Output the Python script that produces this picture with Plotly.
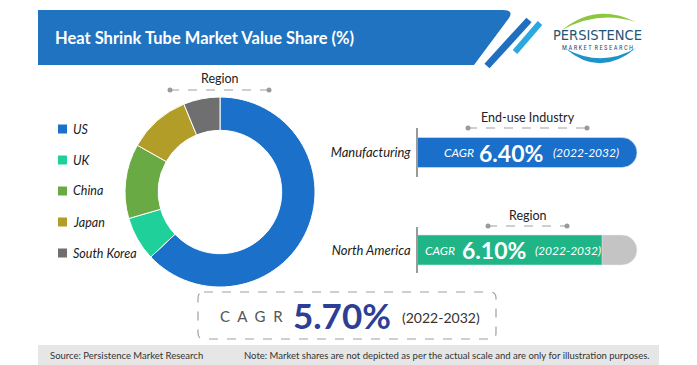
import plotly.graph_objects as go

W, H = 697, 365

# ---------------- data ----------------
title_text = "Heat Shrink Tube Market Value Share (%)"
regions = ["US", "UK", "China", "Japan", "South Korea"]
region_share = [63.0, 7.5, 12.7, 10.6, 6.2]
region_colors = ["#1b70c9", "#1fd09b", "#6aaa45", "#b39d29", "#6f6f6f"]

segment_titles = ["End-use Industry", "Region"]
segment_names = ["Manufacturing", "North America"]
segment_cagr = [6.40, 6.10]
segment_colors = ["#1a6fca", "#1fb586"]
track_color = "#c4c4c4"

overall_cagr = 5.70
period = "(2022-2032)"
source_text = "Source: Persistence Market Research"
note_text = "Note: Market shares are not depicted as per the actual scale and are only for illustration purposes."


def X(p):
    return p / W


def Y(p):
    return 1 - p / H


fig = go.Figure()

# ---------------- donut ----------------
fig.add_trace(go.Pie(
    labels=regions, values=region_share, sort=False, direction="clockwise",
    rotation=0, hole=0.65, textinfo="none", showlegend=False,
    marker=dict(colors=region_colors, line=dict(color="white", width=1)),
    domain=dict(x=[X(125), X(315)], y=[Y(287), Y(97)]),
))

# ---------------- segment bars ----------------
track_val = max(segment_cagr)
px_per_unit = (637 - 602) / (segment_cagr[0] - segment_cagr[1])
x_lo = track_val - (637 - 418) / px_per_unit
x_hi = x_lo + (665 - 418) / px_per_unit

axis_px = [(128, 177), (227, 273)]
bar_h = 30
for i, name in enumerate(segment_names):
    xa = "x" if i == 0 else f"x{i+1}"
    ya = "y" if i == 0 else f"y{i+1}"
    top, bot = axis_px[i]
    width = bar_h / (bot - top)
    if i == 1:
        fig.add_trace(go.Bar(
            x=[track_val], y=[name], orientation="h", xaxis=xa, yaxis=ya,
            marker=dict(color=track_color, cornerradius="50%"), width=width,
            showlegend=False, hoverinfo="skip"))
    fig.add_trace(go.Bar(
        x=[segment_cagr[i]], y=[name], orientation="h", xaxis=xa, yaxis=ya,
        marker=dict(color=segment_colors[i], cornerradius="50%"), width=width,
        showlegend=False))
    xkey = "xaxis" if i == 0 else f"xaxis{i+1}"
    ykey = "yaxis" if i == 0 else f"yaxis{i+1}"
    fig.layout[xkey] = dict(domain=[X(418), X(665)], range=[x_lo, x_hi],
                            visible=False, fixedrange=True,
                            anchor=ya)
    fig.layout[ykey] = dict(domain=[Y(bot), Y(top)], range=[-0.5, 0.5],
                            anchor=xa, showline=True, linecolor="#9a9a9a",
                            linewidth=1.5, showgrid=False, ticks="",
                            ticklabelstandoff=3,
                            tickfont=dict(family="Lato, sans-serif", size=13,
                                          color="#1a1a1a", style="italic"))
fig.update_layout(barmode="overlay")

shapes = []
ann = []

# ---------------- header ----------------
hdr = (f"M {X(38)} {Y(10)} L {X(503)} {Y(10)} Q {X(514)} {Y(10)} {X(509)} {Y(18)} "
       f"L {X(474)} {Y(65)} L {X(38)} {Y(65)} Z")
shapes.append(dict(type="path", path=hdr, xref="paper", yref="paper",
                   fillcolor="#1f73c1", line=dict(width=0), layer="below"))
shapes.append(dict(type="line", xref="paper", yref="paper",
                   x0=X(487), y0=Y(66), x1=X(529), y1=Y(20),
                   line=dict(color="#1f6fc0", width=7)))
shapes.append(dict(type="line", xref="paper", yref="paper",
                   x0=X(515), y0=Y(52), x1=X(540), y1=Y(23),
                   line=dict(color="#2aa8e0", width=6)))
ann.append(dict(text=f"<b>{title_text}</b>", x=X(53), y=Y(38), xref="paper",
                yref="paper", xanchor="left", yanchor="middle", showarrow=False,
                font=dict(family="Lato, sans-serif", size=16.5, color="white")))

# logo
green_arc = (f"M {X(562)} {Y(30)} Q {X(596)} {Y(2)} {X(636)} {Y(22)} "
             f"Q {X(598)} {Y(10)} {X(562)} {Y(30)} Z")
blue_arc = (f"M {X(566)} {Y(49)} Q {X(600)} {Y(78)} {X(636)} {Y(48)} "
            f"Q {X(602)} {Y(68)} {X(566)} {Y(49)} Z")
shapes.append(dict(type="path", path=green_arc, xref="paper", yref="paper",
                   fillcolor="#8dc63f", line=dict(width=0)))
shapes.append(dict(type="path", path=blue_arc, xref="paper", yref="paper",
                   fillcolor="#1c93c9", line=dict(width=0)))
ann.append(dict(text="PERSISTENCE", x=X(597), y=Y(35), xref="paper", yref="paper",
                xanchor="center", yanchor="middle", showarrow=False,
                font=dict(family="Liberation Sans Narrow, DejaVu Sans Condensed, Roboto Condensed, sans-serif",
                          size=14.5, color="#1d5677")))
ann.append(dict(text="M A R K E T  R E S E A R C H", x=X(597), y=Y(48), xref="paper",
                yref="paper", xanchor="center", yanchor="middle", showarrow=False,
                font=dict(family="Liberation Sans Narrow, Roboto Condensed, sans-serif",
                          size=6.5, color="#1d5677")))


# ---------------- dashed title lines ----------------
def dashed(x0, x1, yy):
    shapes.append(dict(type="line", xref="paper", yref="paper", x0=X(x0), x1=X(x1),
                       y0=Y(yy), y1=Y(yy), line=dict(color="#a0a0a0", width=1.2, dash="dash")))
    for xx in (x0, x1):
        shapes.append(dict(type="circle", xref="paper", yref="paper",
                           x0=X(xx - 2.5), x1=X(xx + 2.5), y0=Y(yy + 2.5), y1=Y(yy - 2.5),
                           fillcolor="#9a9a9a", line=dict(width=0)))


dashed(170, 269, 90)
ann.append(dict(text="Region", x=X(220), y=Y(78), xref="paper", yref="paper",
                showarrow=False, xanchor="center", yanchor="middle",
                font=dict(family="Lato, sans-serif", size=12.5, color="#222")))

seg_title_px = [(528, 117, 468, 587, 128), (528, 215, 488, 567, 226)]
for i, t in enumerate(segment_titles):
    cx, ty, lx0, lx1, ly = seg_title_px[i]
    dashed(lx0, lx1, ly)
    ann.append(dict(text=t, x=X(cx), y=Y(ty), xref="paper", yref="paper",
                    showarrow=False, xanchor="center", yanchor="middle",
                    font=dict(family="Lato, sans-serif", size=12.5, color="#222")))

# ---------------- bar texts ----------------
bar_text_px = [(442, 477, 551, 153), (423, 460, 533, 250)]
for i, v in enumerate(segment_cagr):
    a, b, c, yy = bar_text_px[i]
    ann.append(dict(text="<i>CAGR</i>", x=X(a), y=Y(yy), xref="paper", yref="paper",
                    showarrow=False, xanchor="left", yanchor="middle",
                    font=dict(family="Lato, sans-serif", size=12, color="white")))
    ann.append(dict(text=f"<b>{v:.2f}%</b>", x=X(b), y=Y(yy), xref="paper", yref="paper",
                    showarrow=False, xanchor="left", yanchor="middle",
                    font=dict(family="Lato, sans-serif", size=23, color="white")))
    ann.append(dict(text=f"<i>{period}</i>", x=X(c), y=Y(yy), xref="paper", yref="paper",
                    showarrow=False, xanchor="left", yanchor="middle",
                    font=dict(family="Lato, sans-serif", size=12, color="white")))

# ---------------- legend ----------------
leg_y = [129, 160, 191, 222, 253]
for i, r in enumerate(regions):
    yy = leg_y[i]
    shapes.append(dict(type="rect", xref="paper", yref="paper",
                       x0=X(58), x1=X(67), y0=Y(yy + 4.5), y1=Y(yy - 4.5),
                       fillcolor=region_colors[i], line=dict(width=0)))
    ann.append(dict(text=f"<i>{r}</i>", x=X(71), y=Y(yy), xref="paper", yref="paper",
                    showarrow=False, xanchor="left", yanchor="middle",
                    font=dict(family="Lato, sans-serif", size=12.5, color="#1a1a1a")))

# ---------------- CAGR box (rounded, dashed) ----------------
bx0, bx1, by0, by1, r = 198, 496, 292, 339, 6
box = (f"M {X(bx0 + r)} {Y(by0)} L {X(bx1 - r)} {Y(by0)} Q {X(bx1)} {Y(by0)} {X(bx1)} {Y(by0 + r)} "
       f"L {X(bx1)} {Y(by1 - r)} Q {X(bx1)} {Y(by1)} {X(bx1 - r)} {Y(by1)} "
       f"L {X(bx0 + r)} {Y(by1)} Q {X(bx0)} {Y(by1)} {X(bx0)} {Y(by1 - r)} "
       f"L {X(bx0)} {Y(by0 + r)} Q {X(bx0)} {Y(by0)} {X(bx0 + r)} {Y(by0)} Z")
shapes.append(dict(type="path", path=box, xref="paper", yref="paper",
                   line=dict(color="#a0a0a0", width=1.2, dash="dash")))
ann.append(dict(text="C\u00a0\u00a0A\u00a0\u00a0G\u00a0\u00a0R", x=X(218), y=Y(316),
                xref="paper", yref="paper", showarrow=False, xanchor="left", yanchor="middle",
                font=dict(family="Lato, sans-serif", size=15, color="#555")))
ann.append(dict(text=f"<b>{overall_cagr:.2f}%</b>", x=X(291), y=Y(315), xref="paper",
                yref="paper", showarrow=False, xanchor="left", yanchor="middle",
                font=dict(family="Lato, sans-serif", size=35, color="#2d3e97")))
ann.append(dict(text=period, x=X(400), y=Y(317), xref="paper", yref="paper",
                showarrow=False, xanchor="left", yanchor="middle",
                font=dict(family="Lato, sans-serif", size=14, color="#333")))

# ---------------- footer ----------------
shapes.append(dict(type="rect", xref="paper", yref="paper", x0=X(38), x1=X(659),
                   y0=Y(365), y1=Y(345), fillcolor="#e6e6e6", line=dict(width=0),
                   layer="below"))
ann.append(dict(text=source_text, x=X(48), y=Y(355), xref="paper", yref="paper",
                showarrow=False, xanchor="left", yanchor="middle",
                font=dict(family="Lato, sans-serif", size=9.5, color="#333")))
ann.append(dict(text=note_text, x=X(652), y=Y(355), xref="paper", yref="paper",
                showarrow=False, xanchor="right", yanchor="middle",
                font=dict(family="Lato, sans-serif", size=9.5, color="#333")))

fig.update_layout(width=W, height=H, margin=dict(l=0, r=0, t=0, b=0),
                  paper_bgcolor="white", plot_bgcolor="rgba(0,0,0,0)",
                  shapes=shapes, annotations=ann, showlegend=False)

fig.write_html("out.html", config={"displayModeBar": False},
               post_script="document.body.style.margin='0px';document.body.style.overflow='hidden';")
